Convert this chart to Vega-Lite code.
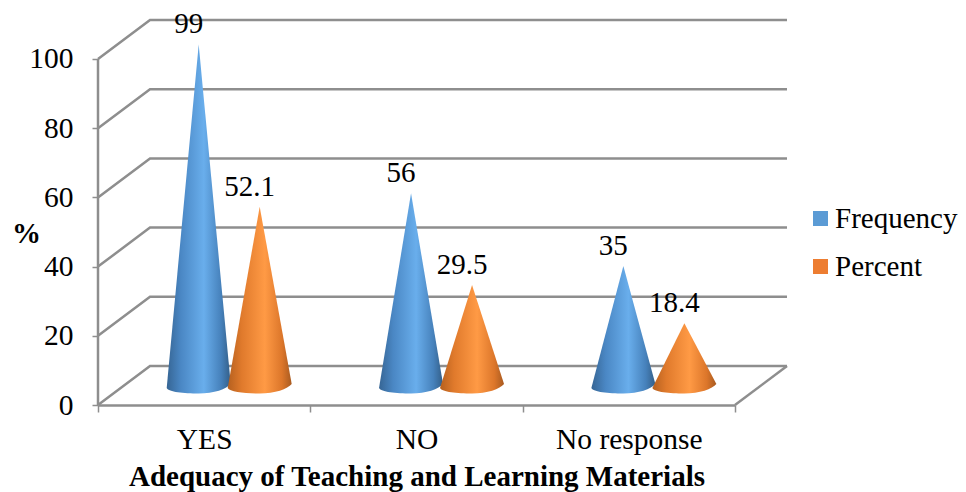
{"$schema":"https://vega.github.io/schema/vega-lite/v6.json","width":689,"height":385,"autosize":"none","padding":{"left":98,"top":20,"right":179,"bottom":87},"background":"white","config":{"view":{"stroke":null},"font":"Liberation Serif"},
"datasets":{"cones":[
{"category":"YES","series":"Frequency","value":99},
{"category":"YES","series":"Percent","value":52.1},
{"category":"NO","series":"Frequency","value":56},
{"category":"NO","series":"Percent","value":29.5},
{"category":"No response","series":"Frequency","value":35},
{"category":"No response","series":"Percent","value":18.4}],
"walls":[
{"line":"g0","wx":0,"wy":0},{"line":"g0","wx":0.245,"wy":11.27},{"line":"g0","wx":3.245,"wy":11.27},
{"line":"g20","wx":0,"wy":20},{"line":"g20","wx":0.245,"wy":31.27},{"line":"g20","wx":3.245,"wy":31.27},
{"line":"g40","wx":0,"wy":40},{"line":"g40","wx":0.245,"wy":51.27},{"line":"g40","wx":3.245,"wy":51.27},
{"line":"g60","wx":0,"wy":60},{"line":"g60","wx":0.245,"wy":71.27},{"line":"g60","wx":3.245,"wy":71.27},
{"line":"g80","wx":0,"wy":80},{"line":"g80","wx":0.245,"wy":91.27},{"line":"g80","wx":3.245,"wy":91.27},
{"line":"g100","wx":0,"wy":100},{"line":"g100","wx":0.245,"wy":111.27},{"line":"g100","wx":3.245,"wy":111.27},
{"line":"front","wx":0,"wy":0},{"line":"front","wx":0,"wy":100},
{"line":"side","wx":3,"wy":0},{"line":"side","wx":3.245,"wy":11.27}]},
"layer":[
{"data":{"name":"walls"},"mark":{"type":"line","stroke":"#8e8e8e","strokeWidth":2.5,"clip":false},
"encoding":{"x":{"field":"wx","type":"quantitative","axis":null,"scale":{"domain":[0,3.245],"range":[0,689],"nice":false,"zero":false}},
"y":{"field":"wy","type":"quantitative","scale":{"domain":[0,111.27],"nice":false,"zero":false},"axis":{"values":[0,20,40,60,80,100],"title":"%","titleFont":"Liberation Serif","titleFontSize":29,"titleFontWeight":"bold","titleColor":"#000","titleAngle":0,"titleX":-72,"titleY":228,"labelFont":"Liberation Serif","labelFontSize":29.5,"labelColor":"#000","labelPadding":19,"tickSize":6,"tickColor":"#8e8e8e","tickWidth":1.5,"domain":false,"grid":false}},
"detail":{"field":"line"}}},
{"layer":[
{"transform":[{"filter":"datum.series === 'Frequency'"}],
"mark":{"type":"point","filled":true,"size":4,"opacity":1,"strokeWidth":0,"fill":{"gradient":"linear","x1":0,"y1":0,"x2":1,"y2":0,"stops":[{"offset":0,"color":"#366594"},{"offset":0.22,"color":"#4a87c4"},{"offset":0.58,"color":"#69aeec"},{"offset":0.85,"color":"#4681bb"},{"offset":1,"color":"#335e87"}]}}},
{"transform":[{"filter":"datum.series === 'Percent'"}],
"mark":{"type":"point","filled":true,"size":4,"opacity":1,"strokeWidth":0,"fill":{"gradient":"linear","x1":0,"y1":0,"x2":1,"y2":0,"stops":[{"offset":0,"color":"#b5601f"},{"offset":0.22,"color":"#e07a2c"},{"offset":0.58,"color":"#ff9a45"},{"offset":0.85,"color":"#dc762a"},{"offset":1,"color":"#a85a20"}]}}},
{"mark":{"type":"text","font":"Liberation Serif","fontSize":29,"color":"#000","dx":-10,"dy":-38,"baseline":"middle"},
"encoding":{"text":{"field":"value","type":"quantitative"},"shape":null}}],
"data":{"name":"cones"},
"encoding":{
"x":{"field":"category","type":"nominal","sort":["YES","NO","No response"],"scale":{"range":[0,637],"paddingInner":0,"paddingOuter":0},"axis":{"title":"Adequacy of Teaching and Learning Materials","titleFont":"Liberation Serif","titleFontSize":29,"titleFontWeight":"bold","titleColor":"#000","titleY":57,"labelAngle":0,"labelFont":"Liberation Serif","labelFontSize":29.5,"labelColor":"#000","labelPadding":13,"labelBaseline":"top","tickBand":"extent","tickSize":7,"tickColor":"#8e8e8e","tickWidth":1.5,"domainColor":"#8e8e8e","domainWidth":2.5,"grid":false}},
"xOffset":{"field":"series","type":"nominal","sort":["Frequency","Percent"],"scale":{"type":"point","range":[100.7,161.7],"padding":0}},
"y":{"field":"value","type":"quantitative"},
"shape":{"field":"value","type":"nominal","legend":null,"scale":{"domain":[99,52.1,56,29.5,35,18.4],"range":[
"M0,-18 L-32,325.5 C-30,329.5 -15,331 0,331 C15,331 28,326.5 32,321.5 Z",
"M0,-18 L-32,163.3 C-30,167.3 -15,168.8 0,168.8 C15,168.8 28,164.3 32,159.3 Z",
"M0,-18 L-32,176.8 C-30,180.8 -15,182.3 0,182.3 C15,182.3 28,177.8 32,172.8 Z",
"M0,-18 L-32,85.1 C-30,89.1 -15,90.6 0,90.6 C15,90.6 28,86.1 32,81.1 Z",
"M0,-18 L-32,104.1 C-30,108.1 -15,109.6 0,109.6 C15,109.6 28,105.1 32,100.1 Z",
"M0,-18 L-32,46.7 C-30,50.7 -15,52.2 0,52.2 C15,52.2 28,47.7 32,42.7 Z"]}}}},
{"data":{"name":"cones"},"transform":[{"filter":"datum.value < 0"}],"mark":{"type":"point","filled":true},
"encoding":{"color":{"field":"series","type":"nominal","scale":{"domain":["Frequency","Percent"],"range":["#5b9bd5","#ed7d31"]},
"legend":{"title":null,"orient":"none","legendX":708,"legendY":184,"symbolType":"square","symbolSize":225,"symbolOpacity":1,"symbolStrokeWidth":0,"labelFont":"Liberation Serif","labelFontSize":29,"labelColor":"#000","labelOffset":0,"rowPadding":18,"labelLimit":200}}}}
],
"resolve":{"scale":{"x":"independent"}}}
